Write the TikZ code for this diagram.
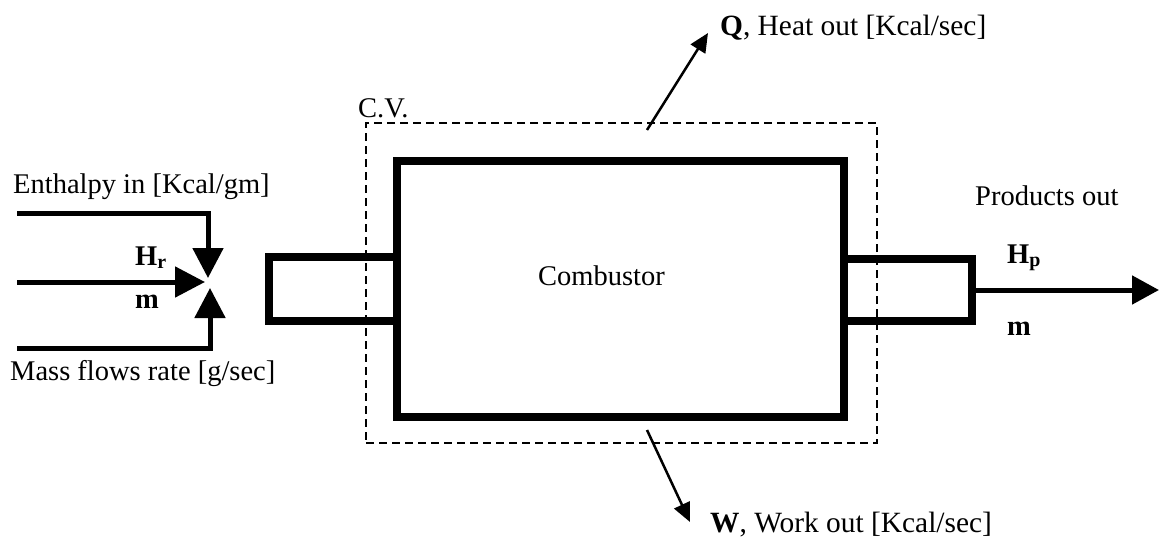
\documentclass[tikz,border=0pt]{standalone}
\usepackage{fontspec}
\setmainfont{Liberation Serif}
\usetikzlibrary{arrows.meta}
\begin{document}
\begin{tikzpicture}[x=1pt,y=-1pt,
  lbl/.style={inner sep=0pt,anchor=base west,font=\fontsize{28.5}{34}\selectfont},
  biglbl/.style={lbl,font=\fontsize{29.4}{35}\selectfont},
  thickbox/.style={draw,line width=8pt,inner sep=0pt},
  flow/.style={line width=5pt,-{Triangle[length=30pt,width=30pt]}},
  outflow/.style={line width=5pt,-{Triangle[length=27pt,width=28pt]}},
  energy/.style={line width=2.5pt,-{Triangle[length=19pt,width=17pt]}},
  cvbox/.style={draw,line width=2pt,dash pattern=on 8pt off 5pt,inner sep=0pt}]
\useasboundingbox (0,0) rectangle (1160,546);
% control volume
\node[cvbox,minimum width=511pt,minimum height=320pt] (cv) at (621.5,283) {};
% combustor body and ducts
\node[thickbox,minimum width=128pt,minimum height=64pt] (inL) at (333,289) {};
\node[thickbox,minimum width=128pt,minimum height=62pt] (inR) at (908,290) {};
\node[thickbox,fill=white,minimum width=447pt,minimum height=256pt] (comb) at (620.5,289) {};
\node[lbl] (combl) at (538,285) {Combustor};
\node[lbl] (cvl) at (358,117) {C.V.};
% inputs
\coordinate (a1) at (17,213);
\coordinate (t1) at (208,278);
\coordinate (a2) at (17,282);
\coordinate (t2) at (205,282);
\coordinate (a3) at (17,348);
\coordinate (t3) at (210,288);
\draw[flow] (a1) -| (t1);
\draw[flow] (a2) -- (t2);
\draw[flow] (a3) -| (t3);
\node[lbl] (enth) at (13,193) {Enthalpy in [Kcal/gm]};
\node[lbl] (mass) at (10,380) {Mass flows rate [g/sec]};
\node[lbl] (hr) at (135,265) {\textbf{H}\textsubscript{\textbf{r}}};
\node[lbl] (mr) at (135,308) {\textbf{m}};
% output
\coordinate (out) at (1159,290);
\draw[outflow] (inR.east) ++(-4pt,0) -- (out);
\node[lbl] (prod) at (975,205) {Products out};
\node[lbl] (hp) at (1007,263) {\textbf{H}\textsubscript{\textbf{p}}};
\node[lbl] (mp) at (1007,335) {\textbf{m}};
% heat and work
\coordinate (q0) at (647,130);
\coordinate (q1) at (708,33);
\coordinate (w0) at (647,430);
\coordinate (w1) at (690,522);
\draw[energy] (q0) -- (q1);
\draw[energy] (w0) -- (w1);
\node[biglbl] (ql) at (720,35) {\textbf{Q}, Heat out [Kcal/sec]};
\node[biglbl] (wl) at (710,532) {\textbf{W}, Work out [Kcal/sec]};
\end{tikzpicture}
\end{document}
